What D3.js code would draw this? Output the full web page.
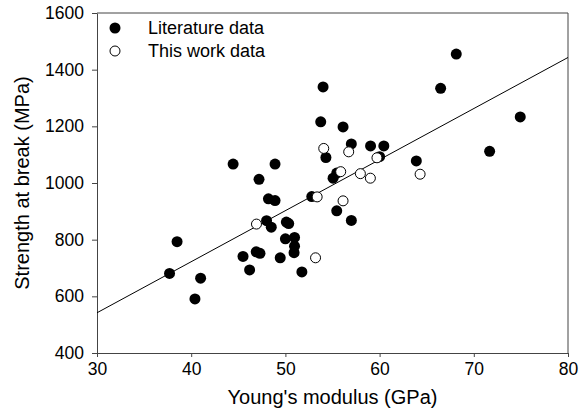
<!DOCTYPE html>
<html>
<head>
<meta charset="utf-8">
<script src="https://cdn.jsdelivr.net/npm/d3@7"></script>
<style>
  body { margin: 0; background: #fff; }
  text { font-family: "Liberation Sans", Arial, sans-serif; fill: #000; }
</style>
</head>
<body>
<svg id="chart" width="582" height="417"></svg>
<script>
// literature data: [Young's modulus (GPa), strength at break (MPa)]
var literatureData = [
  [37.7, 681], [38.5, 793], [40.4, 591], [41.0, 664], [44.45, 1067],
  [45.5, 741], [46.2, 693], [46.9, 757], [47.3, 752], [47.2, 1013],
  [48.0, 867], [48.2, 944], [48.9, 938], [48.5, 844], [48.9, 1067],
  [49.45, 736], [50.0, 803], [50.1, 862], [50.35, 857], [50.97, 808],
  [50.97, 777], [50.92, 754], [51.75, 686], [52.8, 952], [53.75, 1216],
  [54.0, 1339], [54.3, 1090], [55.06, 1017], [55.45, 1035], [55.45, 902],
  [56.12, 1198], [57.0, 1138], [57.0, 868], [59.04, 1131], [60.45, 1131],
  [60.0, 1093], [63.9, 1078], [66.48, 1334], [68.14, 1455], [71.68, 1112],
  [74.93, 1233]
];

var thisWorkData = [
  [46.93, 855], [53.2, 736], [53.37, 951], [54.07, 1122], [55.87, 1040],
  [56.12, 937], [56.72, 1110], [57.96, 1033], [59.02, 1017], [59.72, 1089],
  [64.3, 1031]
];

// linear fit: strength = slope * modulus + intercept
var fitSlope = 18.02;
var fitIntercept = 1.4;

var xTicks = [30, 40, 50, 60, 70, 80];
var yTicks = [400, 600, 800, 1000, 1200, 1400, 1600];

var legendLabels = ["Literature data", "This work data"];

var svg = d3.select("#chart");

var plotLeft = 97, plotRight = 568, plotTop = 13, plotBottom = 353;

var xScale = d3.scaleLinear().domain([30, 80]).range([plotLeft, plotRight]);
var yScale = d3.scaleLinear().domain([400, 1600]).range([plotBottom, plotTop]);

var axisColor = "#444";

// frame (top and right)
svg.append("line")
  .attr("x1", plotLeft).attr("x2", plotRight)
  .attr("y1", plotTop).attr("y2", plotTop)
  .attr("stroke", axisColor).attr("stroke-width", 1);
svg.append("line")
  .attr("x1", plotRight).attr("x2", plotRight)
  .attr("y1", plotTop).attr("y2", plotBottom)
  .attr("stroke", axisColor).attr("stroke-width", 1);

var xAxis = svg.append("g")
  .attr("transform", "translate(0," + plotBottom + ")")
  .call(d3.axisBottom(xScale).tickValues(xTicks).tickFormat(d3.format("d"))
    .tickSize(4).tickSizeOuter(0).tickPadding(6));

var yAxis = svg.append("g")
  .attr("transform", "translate(" + plotLeft + ",0)")
  .call(d3.axisLeft(yScale).tickValues(yTicks).tickFormat(d3.format("d"))
    .tickSize(5).tickSizeOuter(0).tickPadding(8));

[xAxis, yAxis].forEach(function (g) {
  g.selectAll("path, line").attr("stroke", axisColor);
  g.selectAll("text")
    .style("font-family", '"Liberation Sans", Arial, sans-serif')
    .style("font-size", "17.5px")
    .attr("fill", "#000");
});

// regression line
svg.append("line")
  .attr("x1", xScale(30)).attr("y1", yScale(fitSlope * 30 + fitIntercept))
  .attr("x2", xScale(80)).attr("y2", yScale(fitSlope * 80 + fitIntercept))
  .attr("stroke", "#000").attr("stroke-width", 1);

var r = 5.5;

svg.append("g").selectAll("circle")
  .data(literatureData)
  .enter().append("circle")
  .attr("cx", function (d) { return xScale(d[0]); })
  .attr("cy", function (d) { return yScale(d[1]); })
  .attr("r", r)
  .attr("fill", "#000");

svg.append("g").selectAll("circle")
  .data(thisWorkData)
  .enter().append("circle")
  .attr("cx", function (d) { return xScale(d[0]); })
  .attr("cy", function (d) { return yScale(d[1]); })
  .attr("r", r - 0.5)
  .attr("fill", "#fff")
  .attr("stroke", "#000")
  .attr("stroke-width", 1);

// legend
var legend = svg.append("g");
legendLabels.forEach(function (label, i) {
  var cy = 28 + i * 23;
  legend.append("circle")
    .attr("cx", 115).attr("cy", cy)
    .attr("r", i === 0 ? r : r - 0.5)
    .attr("fill", i === 0 ? "#000" : "#fff")
    .attr("stroke", "#000")
    .attr("stroke-width", i === 0 ? 0 : 1);
  legend.append("text")
    .attr("x", 148).attr("y", cy + 6)
    .style("font-size", "18px")
    .text(label);
});

// axis titles
svg.append("text")
  .attr("x", (plotLeft + plotRight) / 2)
  .attr("y", 404)
  .attr("text-anchor", "middle")
  .style("font-size", "20px")
  .text("Young's modulus (GPa)");

svg.append("text")
  .attr("transform", "translate(29," + (plotTop + plotBottom) / 2 + ") rotate(-90)")
  .attr("text-anchor", "middle")
  .style("font-size", "20px")
  .text("Strength at break (MPa)");
</script>
</body>
</html>
